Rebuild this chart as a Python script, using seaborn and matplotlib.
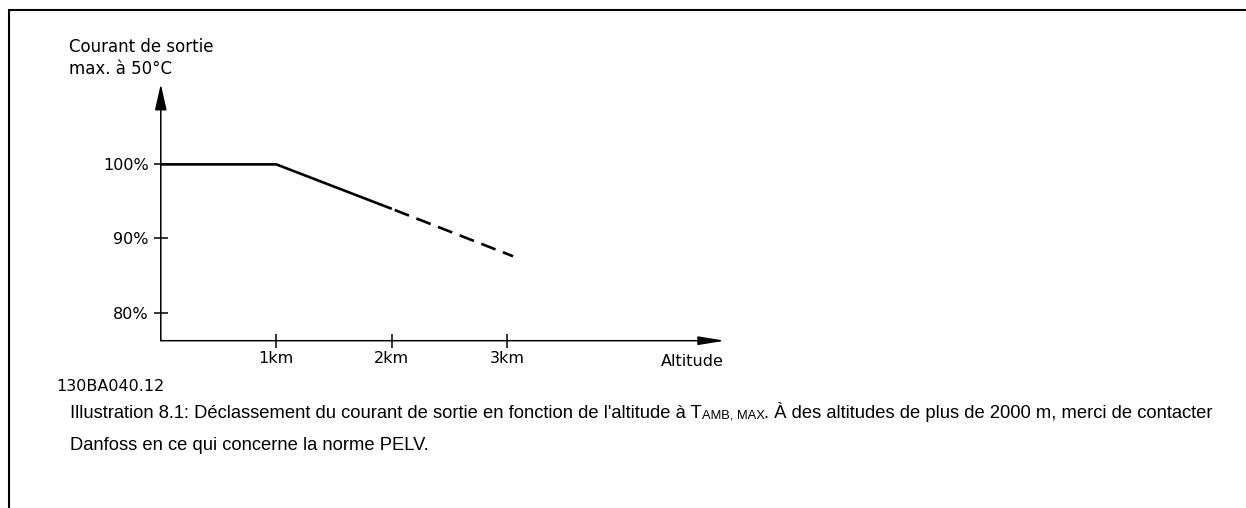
import matplotlib
matplotlib.use("Agg")
import matplotlib.pyplot as plt
from matplotlib.lines import Line2D
import seaborn as sns
import pandas as pd

# ---- data ----
altitude_solid_km = [0, 1, 2]
current_solid_pct = [100, 100, 94]
altitude_dashed_km = [2, 3.05]
current_dashed_pct = [94, 87.6]
x_ticks = [1, 2, 3]
x_tick_labels = ["1km", "2km", "3km"]
y_ticks = [80, 90, 100]
y_tick_labels = ["80%", "90%", "100%"]
y_title_lines = ["Courant de sortie", "max. à 50°C"]
x_title = "Altitude"
drawing_code = "130BA040.12"
caption_part1 = "Illustration 8.1: Déclassement du courant de sortie en fonction de l'altitude à T"
caption_sub = "AMB, MAX"
caption_part2 = ". À des altitudes de plus de 2000 m, merci de contacter"
caption_line2 = "Danfoss en ce qui concerne la norme PELV."

sns.set_theme(style="white")
plt.rcParams["font.family"] = ["DejaVu Sans"]
plt.rcParams["text.color"] = "black"
plt.rcParams["xtick.color"] = "black"
plt.rcParams["ytick.color"] = "black"
plt.rcParams["axes.labelcolor"] = "black"

W, H = 1246, 508
fig = plt.figure(figsize=(W / 100, H / 100), dpi=100)
fig.patch.set_facecolor("white")

def fx(px):
    return px / W

def fy(py):
    return 1 - py / H

ax_left, ax_right, ax_top, ax_bottom = 160.8, 725, 84, 340.7
ax = fig.add_axes([fx(ax_left), fy(ax_bottom), fx(ax_right - ax_left), (ax_bottom - ax_top) / H])
ax.set_facecolor("white")

solid_df = pd.DataFrame({"alt": altitude_solid_km, "cur": current_solid_pct})
dashed_df = pd.DataFrame({"alt": altitude_dashed_km, "cur": current_dashed_pct})
sns.lineplot(data=solid_df, x="alt", y="cur", ax=ax, color="black", lw=1.9,
             estimator=None, sort=False, solid_capstyle="butt")
sns.lineplot(data=dashed_df, x="alt", y="cur", ax=ax, color="black", lw=1.9,
             estimator=None, sort=False, linestyle=(7.6, (5.8, 3.0)), dash_capstyle="butt")

ax.set_xlim(0, 4.885)
ax.set_ylim(76.2, 110.85)
for s in ax.spines.values():
    s.set_visible(False)
ax.set_xlabel("")
ax.set_ylabel("")
ax.grid(False)

ax.set_xticks(x_ticks)
ax.set_xticklabels(x_tick_labels, fontsize=11.5)
ax.set_yticks(y_ticks)
ax.set_yticklabels(y_tick_labels, fontsize=11.5)
ax.tick_params(axis="both", direction="inout", length=9.5, width=1.1, color="black",
               labelcolor="black", bottom=True, left=True)
ax.tick_params(axis="x", pad=3)
ax.tick_params(axis="y", pad=4)

# axes with arrow heads
ax.annotate("", xy=(1, 0), xytext=(0, 0), xycoords="axes fraction",
            arrowprops=dict(arrowstyle="-|>,head_length=1.6,head_width=0.26",
                            mutation_scale=10, lw=1.1, color="black",
                            shrinkA=0, shrinkB=0), annotation_clip=False)
ax.annotate("", xy=(0, 1), xytext=(0, 0), xycoords="axes fraction",
            arrowprops=dict(arrowstyle="-|>,head_length=1.6,head_width=0.36",
                            mutation_scale=10, lw=1.1, color="black",
                            shrinkA=0, shrinkB=0), annotation_clip=False)

# texts
fig.text(fx(69), fy(52), y_title_lines[0], fontsize=12, va="baseline", ha="left")
fig.text(fx(69), fy(74), y_title_lines[1], fontsize=12, va="baseline", ha="left")
fig.text(fx(724), fy(366), x_title, fontsize=11.5, va="baseline", ha="right")
fig.text(fx(56), fy(391), drawing_code, fontsize=11.5, va="baseline", ha="left")

cap_font = ["Liberation Sans", "DejaVu Sans"]
t1 = fig.text(fx(70), fy(418), caption_part1, fontsize=13.2, va="baseline", ha="left", family=cap_font)
t2 = ax.annotate(caption_sub, xy=(1, 0), xycoords=t1, va="bottom", ha="left",
                 fontsize=9.3, family=cap_font, annotation_clip=False)
t3 = ax.annotate(caption_part2, xy=(1, 0), xycoords=t2, va="bottom", ha="left",
                 fontsize=13.2, family=cap_font, annotation_clip=False)
fig.text(fx(70), fy(450), caption_line2, fontsize=13.2, va="baseline", ha="left", family=cap_font)

# page frame (top and left rules)
fig.add_artist(Line2D([fx(9), 1], [fy(10), fy(10)], transform=fig.transFigure, color="black", lw=1.5))
fig.add_artist(Line2D([fx(9), fx(9)], [fy(10), 0], transform=fig.transFigure, color="black", lw=1.5))

fig.savefig("out.png", dpi=100, facecolor="white")
